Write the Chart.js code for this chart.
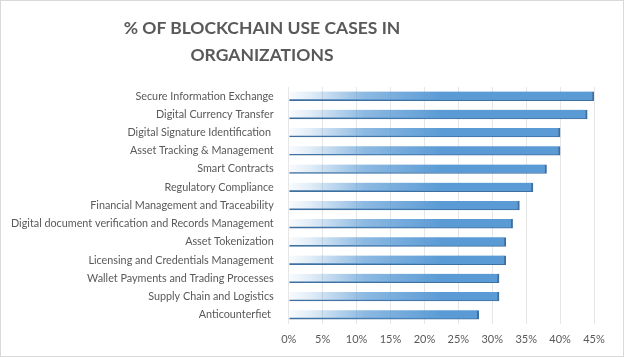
<!DOCTYPE html>
<html>
<head>
<meta charset="utf-8">
<script src="https://cdn.jsdelivr.net/npm/chart.js@4/dist/chart.umd.min.js"></script>
<style>
  html, body { margin: 0; padding: 0; background: #fff; }
  #wrap { position: relative; width: 624px; height: 357px; box-sizing: border-box; border: 1px solid #d9d9d9; overflow: hidden; }
  #title { position: absolute; left: 0; width: 522px; top: 13px; text-align: center; font-family: Lato, "Open Sans", sans-serif; font-weight: bold; font-size: 17.5px; line-height: 27px; color: #595959; }
  #c { position: absolute; left: 0; top: 0; }
</style>
</head>
<body>
<div id="wrap">
  <canvas id="c" width="622" height="355"></canvas>
  <div id="title">% OF BLOCKCHAIN USE CASES IN<br>ORGANIZATIONS</div>
</div>
<script>
const categories = [
  "Secure Information Exchange",
  "Digital Currency Transfer",
  "Digital Signature Identification ",
  "Asset Tracking & Management",
  "Smart Contracts",
  "Regulatory Compliance",
  "Financial Management and Traceability",
  "Digital document verification and Records Management",
  "Asset Tokenization",
  "Licensing and Credentials Management",
  "Wallet Payments and Trading Processes",
  "Supply Chain and Logistics",
  "Anticounterfiet "
];
const values = [45, 44, 40, 40, 38, 36, 34, 33, 32, 32, 31, 31, 28];
const xMin = 0, xMax = 45, xStep = 5;

function barFill(ctx) {
  const chart = ctx.chart;
  const area = chart.chartArea;
  if (!area) return '#5b9bd5';
  const g = chart.ctx.createLinearGradient(area.left, 0, area.left + (area.right - area.left) * 0.5, 0);
  g.addColorStop(0, 'rgba(91,155,213,0.04)');
  g.addColorStop(0.14, 'rgba(91,155,213,0.18)');
  g.addColorStop(0.5, 'rgba(91,155,213,0.7)');
  g.addColorStop(1, 'rgba(91,155,213,1)');
  return g;
}

new Chart(document.getElementById('c'), {
  type: 'bar',
  data: {
    labels: categories,
    datasets: [{
      data: values,
      backgroundColor: barFill,
      borderColor: '#3f6f9e',
      borderWidth: { top: 0, left: 0, right: 2, bottom: 1 },
      borderSkipped: false,
      barThickness: 9
    }]
  },
  options: {
    indexAxis: 'y',
    responsive: false,
    animation: false,
    layout: { padding: { top: 86, right: 29, left: 3, bottom: 1 } },
    plugins: { legend: { display: false }, tooltip: { enabled: false } },
    scales: {
      x: {
        min: xMin, max: xMax,
        ticks: { stepSize: xStep, color: '#595959', font: { family: 'Lato, sans-serif', size: 11 }, callback: v => v + '%', padding: 9 },
        grid: { color: '#e6e6e6', drawTicks: false },
        border: { display: false }
      },
      y: {
        ticks: { color: '#595959', font: { family: 'Lato, sans-serif', size: 10.8 }, padding: 7, autoSkip: false },
        grid: { display: false },
        border: { display: false }
      }
    }
  }
});
</script>
</body>
</html>
